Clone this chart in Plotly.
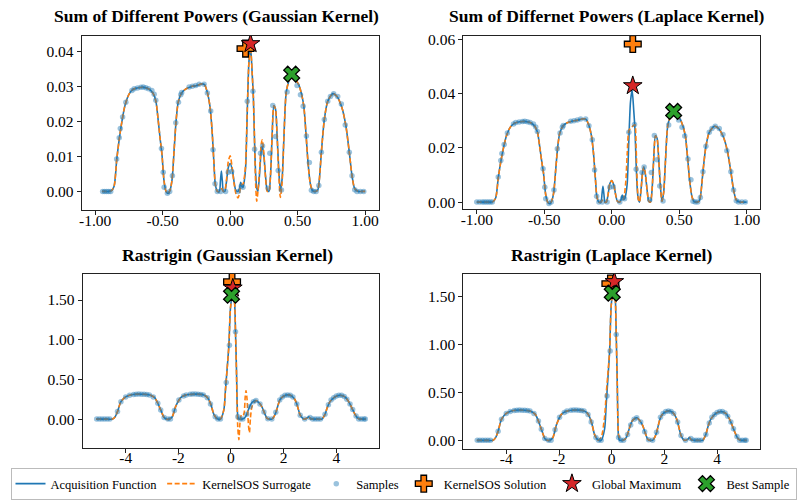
import plotly.graph_objects as go

# ---------------- Sum of Different Powers ----------------
sp_x = [-1.00, -0.975, -0.95, -0.925, -0.90, -0.88, -0.86, -0.84, -0.82, -0.80,
        -0.78, -0.75, -0.72, -0.68, -0.64, -0.60, -0.57, -0.55, -0.535, -0.52,
        -0.505, -0.49, -0.475, -0.46, -0.445, -0.43, -0.415, -0.40, -0.385, -0.36,
        -0.33, -0.29, -0.25, -0.21, -0.19, -0.17, -0.15, -0.135, -0.12, -0.11,
        -0.095, -0.08, -0.072, -0.065, -0.058, -0.05, -0.04, -0.028, -0.014, 0.0,
        0.016, 0.03, 0.042, 0.058, 0.07, 0.078, 0.086, 0.095, 0.105, 0.115,
        0.127, 0.139, 0.151, 0.163, 0.172, 0.181, 0.189, 0.197, 0.206, 0.218,
        0.23, 0.238, 0.25, 0.262, 0.275, 0.287, 0.299, 0.311, 0.324, 0.336,
        0.348, 0.36, 0.372, 0.385, 0.397, 0.415, 0.434, 0.459, 0.484, 0.509,
        0.533, 0.547, 0.562, 0.577, 0.594, 0.611, 0.631, 0.649, 0.66, 0.676,
        0.698, 0.723, 0.76, 0.792, 0.829, 0.858, 0.883, 0.903, 0.923, 0.95,
        0.975, 1.0]

sp_acq = [0, 0, 0, 0, 0, 0.0002, 0.0015, 0.0093, 0.0155, 0.0205,
          0.0245, 0.0278, 0.0292, 0.0297, 0.0298, 0.0293, 0.0280, 0.0258, 0.0210, 0.0155,
          0.0105, 0.0030, 0.0000, -0.0006, 0.0004, 0.0035, 0.0120, 0.0205, 0.0255, 0.0282,
          0.0293, 0.0300, 0.0303, 0.0308, 0.0306, 0.0285, 0.0245, 0.0180, 0.0080, 0.0020,
          0.0000, 0.0000, 0.0030, 0.0058, 0.0030, 0.0000, 0.0000, 0.0025, 0.0068, 0.0080,
          0.0062, 0.0025, 0.0003, 0.0000, 0.0010, 0.0026, 0.0015, 0.0012, 0.0030, 0.0070,
          0.0230, 0.0370, 0.0415, 0.0340, 0.0270, 0.0140, 0.0050, 0.0010, 0.0000, 0.0050,
          0.0115, 0.0130, 0.0102, 0.0045, 0.0003, 0.0000, 0.0045, 0.0159, 0.0245, 0.0236,
          0.0159, 0.0064, 0.0003, 0.0036, 0.0140, 0.0282, 0.0315, 0.0334, 0.0321, 0.0305,
          0.0272, 0.0240, 0.0165, 0.0083, 0.0022, 0.0002, 0.0000, 0.0004, 0.0030, 0.0112,
          0.0206, 0.0258, 0.0280, 0.0272, 0.0239, 0.0187, 0.0112, 0.0045, 0.0008, 0.0000,
          0, 0]

sp_sur_gauss = [0, 0, 0, 0, 0, 0.0002, 0.0015, 0.0093, 0.0155, 0.0205,
                0.0245, 0.0278, 0.0292, 0.0297, 0.0298, 0.0293, 0.0280, 0.0258, 0.0210, 0.0155,
                0.0105, 0.0030, 0.0000, -0.0006, 0.0004, 0.0035, 0.0120, 0.0205, 0.0255, 0.0282,
                0.0293, 0.0300, 0.0303, 0.0308, 0.0306, 0.0285, 0.0245, 0.0180, 0.0080, 0.0020,
                0.0000, 0.0000, 0.0005, 0.0008, 0.0005, 0.0000, 0.0002, 0.0030, 0.0085, 0.0102,
                0.0065, 0.0020, -0.0005, -0.0019, -0.0005, 0.0015, 0.0020, 0.0020, 0.0040, 0.0080,
                0.0235, 0.0370, 0.0415, 0.0340, 0.0270, 0.0140, 0.0020, -0.0028, 0.0000, 0.0060,
                0.0135, 0.0148, 0.0108, 0.0040, 0.0000, 0.0000, 0.0045, 0.0159, 0.0245, 0.0236,
                0.0159, 0.0050, -0.0017, 0.0025, 0.0140, 0.0282, 0.0315, 0.0334, 0.0321, 0.0305,
                0.0272, 0.0240, 0.0165, 0.0083, 0.0022, 0.0002, 0.0000, 0.0004, 0.0030, 0.0112,
                0.0206, 0.0258, 0.0280, 0.0272, 0.0239, 0.0187, 0.0112, 0.0045, 0.0008, 0.0000,
                0, 0]

sp_sur_laplace = [0, 0, 0, 0, 0, 0.0002, 0.0015, 0.0093, 0.0155, 0.0205,
                  0.0245, 0.0278, 0.0292, 0.0297, 0.0298, 0.0293, 0.0280, 0.0258, 0.0210, 0.0155,
                  0.0105, 0.0030, 0.0000, -0.0006, 0.0004, 0.0035, 0.0120, 0.0205, 0.0255, 0.0282,
                  0.0293, 0.0300, 0.0303, 0.0308, 0.0306, 0.0285, 0.0245, 0.0180, 0.0080, 0.0020,
                  0.0000, 0.0000, 0.0005, 0.0008, 0.0005, 0.0000, 0.0000, 0.0025, 0.0068, 0.0080,
                  0.0062, 0.0025, 0.0003, 0.0000, 0.0005, 0.0010, 0.0010, 0.0030, 0.0080, 0.0180,
                  0.0265, 0.0272, 0.0278, 0.0284, 0.0286, 0.0200, 0.0070, 0.0010, 0.0000, 0.0050,
                  0.0115, 0.0130, 0.0102, 0.0045, 0.0003, 0.0000, 0.0045, 0.0159, 0.0245, 0.0236,
                  0.0159, 0.0064, 0.0003, 0.0036, 0.0140, 0.0282, 0.0315, 0.0334, 0.0321, 0.0305,
                  0.0272, 0.0240, 0.0165, 0.0083, 0.0022, 0.0002, 0.0000, 0.0004, 0.0030, 0.0112,
                  0.0206, 0.0258, 0.0280, 0.0272, 0.0239, 0.0187, 0.0112, 0.0045, 0.0008, 0.0000,
                  0, 0]

sp_samp_x = [-1.0, -0.98, -0.96, -0.945, -0.93, -0.915, -0.90, -0.885, -0.841, -0.822,
             -0.814, -0.797, -0.773, -0.728, -0.711, -0.686, -0.661, -0.644, -0.625, -0.605,
             -0.58, -0.563, -0.551, -0.509, -0.496, -0.489, -0.465, -0.448, -0.428, -0.403,
             -0.383, -0.366, -0.359, -0.304, -0.28, -0.255, -0.23, -0.193, -0.169, -0.144,
             -0.127, -0.112, -0.095, -0.07, -0.034, -0.014, 0.011, 0.06, 0.082, 0.095,
             0.127, 0.169, 0.181, 0.225, 0.24, 0.282, 0.294, 0.316, 0.336, 0.356,
             0.38, 0.422, 0.496, 0.521, 0.541, 0.565, 0.587, 0.602, 0.619, 0.637,
             0.657, 0.676, 0.698, 0.723, 0.743, 0.767, 0.797, 0.824, 0.853, 0.883,
             0.903, 0.923, 0.94, 0.965, 0.99]
sp_samp_y = [0, 0, 0, 0, 0, 0, 0, 0, 0.0093, 0.0154,
             0.018, 0.0213, 0.0255, 0.0289, 0.0294, 0.0296, 0.0298, 0.0299, 0.0297, 0.0294,
             0.0289, 0.0278, 0.0261, 0.0123, 0.0055, 0.0012, -0.0005, 0.0, 0.0045, 0.0197,
             0.0255, 0.0277, 0.0283, 0.0299, 0.0301, 0.0303, 0.0307, 0.0307, 0.0282, 0.023,
             0.0119, 0.0022, 0.0, 0.0, 0.0, 0.0055, 0.0057, 0.0, 0.0015, 0.0012,
             0.0258, 0.0287, 0.0121, 0.0109, 0.013, 0.0009, 0.0109, 0.0246, 0.0157, 0.006,
             0.0004, 0.0285, 0.0303, 0.0277, 0.0244, 0.0159, 0.0083, 0.0003, 0.0, 0.0,
             0.0017, 0.0112, 0.0206, 0.0258, 0.0272, 0.028, 0.0272, 0.025, 0.019, 0.0112,
             0.0045, 0.0005, 0.0, 0.0, 0.0]

# ---------------- Rastrigin ----------------
ra_x = [-5.12, -4.9, -4.7, -4.5, -4.4, -4.31, -4.18, -4.0, -3.74, -3.5,
        -3.36, -3.2, -3.05, -2.9, -2.78, -2.67, -2.54, -2.45, -2.35, -2.23,
        -2.1, -1.91, -1.75, -1.6, -1.3, -1.09, -0.95, -0.85, -0.75, -0.65,
        -0.52, -0.40, -0.27, -0.21, -0.15, -0.08, -0.02, 0.08, 0.14, 0.17,
        0.21, 0.23, 0.26, 0.30, 0.34, 0.38, 0.42, 0.46, 0.50, 0.54,
        0.57, 0.61, 0.64, 0.67, 0.70, 0.74, 0.80, 0.95, 1.08, 1.18,
        1.28, 1.37, 1.46, 1.55, 1.63, 1.71, 1.87, 2.06, 2.2, 2.31,
        2.42, 2.5, 2.57, 2.63, 2.76, 2.88, 2.95, 3.02, 3.15, 3.3,
        3.45, 3.57, 3.66, 3.76, 3.95, 4.14, 4.33, 4.45, 4.52, 4.62,
        4.71, 4.80, 4.9, 5.0, 5.12]

ra_acq = [0, 0, 0, 0, 0.03, 0.095, 0.22, 0.28, 0.31, 0.315,
          0.313, 0.31, 0.30, 0.27, 0.20, 0.116, 0.02, 0.0, 0.0, 0.03,
          0.16, 0.27, 0.30, 0.31, 0.315, 0.31, 0.29, 0.25, 0.17, 0.06,
          0.005, 0.0, 0.12, 0.37, 0.62, 0.93, 1.40, 1.62, 1.45, 1.11,
          0.61, 0.25, 0.03, 0.0, 0.0, 0.0, 0.0, 0.005, 0.01, 0.025,
          0.04, 0.07, 0.10, 0.125, 0.15, 0.18, 0.21, 0.235, 0.20, 0.15,
          0.07, 0.01, 0.0, 0.0, 0.03, 0.09, 0.25, 0.30, 0.305, 0.29,
          0.25, 0.19, 0.11, 0.05, 0.0, 0.01, 0.03, 0.005, 0.0, 0.0,
          0.0, 0.06, 0.15, 0.22, 0.28, 0.30, 0.28, 0.23, 0.19, 0.12,
          0.06, 0.015, 0.0, 0.0, 0.0]

ra_sur_gauss = [0, 0, 0, 0, 0.03, 0.095, 0.22, 0.28, 0.31, 0.315,
                0.313, 0.31, 0.30, 0.27, 0.20, 0.116, 0.02, 0.0, 0.0, 0.03,
                0.16, 0.27, 0.30, 0.31, 0.315, 0.31, 0.29, 0.25, 0.17, 0.06,
                0.0, 0.0, 0.12, 0.37, 0.62, 0.93, 1.40, 1.62, 1.45, 1.11,
                0.55, 0.20, -0.12, -0.26, -0.05, 0.04, 0.06, 0.05, 0.08, 0.28,
                0.36, 0.25, 0.05, -0.10, -0.17, 0.02, 0.16, 0.235, 0.20, 0.15,
                0.07, 0.01, 0.0, 0.0, 0.03, 0.09, 0.25, 0.30, 0.305, 0.29,
                0.25, 0.19, 0.11, 0.05, 0.0, 0.01, 0.03, 0.005, 0.0, 0.0,
                0.0, 0.06, 0.15, 0.22, 0.28, 0.30, 0.28, 0.23, 0.19, 0.12,
                0.06, 0.015, 0.0, 0.0, 0.0]

ra_sur_laplace = [0, 0, 0, 0, 0.03, 0.095, 0.22, 0.28, 0.31, 0.315,
                  0.313, 0.31, 0.30, 0.27, 0.20, 0.116, 0.02, 0.0, 0.0, 0.03,
                  0.16, 0.27, 0.30, 0.31, 0.315, 0.31, 0.29, 0.25, 0.17, 0.06,
                  0.0, 0.03, 0.25, 0.48, 0.68, 0.93, 1.40, 1.62, 1.45, 1.11,
                  0.58, 0.25, 0.06, 0.03, 0.02, 0.01, 0.0, 0.005, 0.01, 0.025,
                  0.04, 0.07, 0.10, 0.125, 0.15, 0.18, 0.21, 0.235, 0.20, 0.15,
                  0.07, 0.01, 0.0, 0.0, 0.03, 0.09, 0.25, 0.30, 0.305, 0.29,
                  0.25, 0.19, 0.11, 0.05, 0.0, 0.01, 0.03, 0.005, 0.0, 0.0,
                  0.0, 0.06, 0.15, 0.22, 0.28, 0.30, 0.28, 0.23, 0.19, 0.12,
                  0.06, 0.015, 0.0, 0.0, 0.0]

ra_samp_x = [-5.1, -5.0, -4.9, -4.8, -4.7, -4.6, -4.31, -4.18, -4.0, -3.85,
             -3.7, -3.6, -3.5, -3.4, -3.3, -3.2, -3.1, -2.95, -2.78, -2.67,
             -2.54, -2.4, -2.3, -2.15, -1.98, -1.8, -1.7, -1.55, -1.45, -1.35,
             -1.25, -1.15, -1.05, -0.9, -0.78, -0.6, -0.5, -0.4, -0.18, -0.06,
             0.17, 0.26, 0.35, 0.45, 0.6, 0.72, 0.85, 0.95, 1.1, 1.25,
             1.4, 1.55, 1.7, 1.85, 1.95, 2.05, 2.15, 2.25, 2.35, 2.5,
             2.63, 2.8, 3.0, 3.1, 3.2, 3.3, 3.4, 3.57, 3.7, 3.8,
             3.9, 4.0, 4.1, 4.2, 4.3, 4.4, 4.52, 4.62, 4.75, 4.85,
             4.95, 5.05, 5.1]
ra_samp_y = [0, 0, 0, 0, 0, 0, 0.095, 0.22, 0.28, 0.30,
             0.31, 0.313, 0.315, 0.314, 0.312, 0.31, 0.305, 0.28, 0.2, 0.116,
             0.02, 0.0, 0.0, 0.11, 0.24, 0.29, 0.305, 0.312, 0.315, 0.315,
             0.313, 0.31, 0.305, 0.27, 0.19, 0.03, 0.0, 0.0, 0.46, 0.93,
             1.10, 0.03, 0.0, 0.0, 0.06, 0.16, 0.22, 0.235, 0.19, 0.09,
             0.005, 0.0, 0.085, 0.24, 0.28, 0.30, 0.305, 0.3, 0.28, 0.19,
             0.05, 0.0, 0.02, 0.0, 0.0, 0.0, 0.0, 0.06, 0.18, 0.24,
             0.27, 0.29, 0.30, 0.30, 0.285, 0.25, 0.19, 0.12, 0.04, 0.0,
             0.0, 0.0, 0.0]

# Special points: [SoP Gaussian, SoP Laplace, Rastrigin Gaussian, Rastrigin Laplace]
sol_x = [0.114, 0.156, 0.04, -0.05]
sol_y = [0.0409, 0.0584, 1.73, 1.63]
max_x = [0.151, 0.156, 0.07, 0.10]
max_y = [0.0423, 0.043, 1.65, 1.65]
best_x = [0.456, 0.459, 0.02, 0.02]
best_y = [0.0336, 0.0335, 1.56, 1.53]

titles = ["Sum of Different Powers (Gaussian Kernel)",
          "Sum of Differnet Powers (Laplace Kernel)",
          "Rastrigin (Gaussian Kernel)",
          "Rastrigin (Laplace Kernel)"]

sp_xticks = [-1.0, -0.5, 0.0, 0.5, 1.0]
sp_xtext = ["-1.00", "-0.50", "0.00", "0.50", "1.00"]
ra_xticks = [-4, -2, 0, 2, 4]
ra_xtext = ["-4", "-2", "0", "2", "4"]
yticks_tl = [0.0, 0.01, 0.02, 0.03, 0.04]
ytext_tl = ["0.00", "0.01", "0.02", "0.03", "0.04"]
yticks_tr = [0.0, 0.02, 0.04, 0.06]
ytext_tr = ["0.00", "0.02", "0.04", "0.06"]
yticks_b = [0.0, 0.5, 1.0, 1.5]
ytext_b = ["0.00", "0.50", "1.00", "1.50"]

W, H = 804, 501
FONT = "Liberation Serif"
BLUE = "#1f77b4"
ORANGE = "#ff7f0e"

# panel pixel boxes (left, right, top, bottom)
boxes = [(79, 377, 32, 208), (462, 760, 32, 207.5), (80, 377.7, 272.7, 448.3), (462, 760, 272.7, 449)]
xranges = [[-1.1, 1.1], [-1.1, 1.1], [-5.632, 5.632], [-5.632, 5.632]]
yranges = [[-0.0053, 0.0446], [-0.0027, 0.0615], [-0.3616, 1.828], [-0.085, 1.73]]
title_pos = [(214, 12), (606, 12), (225, 254), (611, 254)]

tl_start = [i for i, v in enumerate(sp_x) if v >= -0.951][0]
panels = [
    (sp_x[tl_start:], sp_acq[tl_start:], sp_sur_gauss[tl_start:],
     [x for x in sp_samp_x if x >= -0.951], [y for x, y in zip(sp_samp_x, sp_samp_y) if x >= -0.951]),
    (sp_x, sp_acq, sp_sur_laplace, sp_samp_x, sp_samp_y),
    (ra_x, ra_acq, ra_sur_gauss, ra_samp_x, ra_samp_y),
    (ra_x, ra_acq, ra_sur_laplace, ra_samp_x, ra_samp_y),
]

fig = go.Figure()
for k, (lx, la, ls, sx, sy) in enumerate(panels):
    xa = "x" if k == 0 else f"x{k+1}"
    ya = "y" if k == 0 else f"y{k+1}"
    show = (k == 0)
    fig.add_trace(go.Scatter(x=lx, y=la, mode="lines", name="Acquisition Function",
                             line=dict(color=BLUE, width=1.6, shape="spline", smoothing=0.7),
                             xaxis=xa, yaxis=ya, showlegend=show, legendgroup="a"))
    fig.add_trace(go.Scatter(x=lx, y=ls, mode="lines", name="KernelSOS Surrogate",
                             line=dict(color=ORANGE, width=1.6, dash="5px,2.5px", shape="spline", smoothing=0.7),
                             xaxis=xa, yaxis=ya, showlegend=show, legendgroup="b"))
    fig.add_trace(go.Scatter(x=sx, y=sy, mode="markers", name="Samples",
                             marker=dict(color="rgba(31,119,180,0.45)", size=5.5, line=dict(width=0)),
                             xaxis=xa, yaxis=ya, showlegend=show, legendgroup="c"))
    fig.add_trace(go.Scatter(x=[sol_x[k]], y=[sol_y[k]], mode="markers", name="KernelSOS Solution",
                             marker=dict(symbol="cross", color=ORANGE, size=14, line=dict(color="black", width=1.3)),
                             xaxis=xa, yaxis=ya, showlegend=show, legendgroup="d"))
    fig.add_trace(go.Scatter(x=[max_x[k]], y=[max_y[k]], mode="markers", name="Global Maximum",
                             marker=dict(symbol="star", color="#d62728", size=14, line=dict(color="black", width=1)),
                             xaxis=xa, yaxis=ya, showlegend=show, legendgroup="e"))
    fig.add_trace(go.Scatter(x=[best_x[k]], y=[best_y[k]], mode="markers", name="Best Sample",
                             marker=dict(symbol="x", color="#2ca02c", size=14, line=dict(color="black", width=1.3)),
                             xaxis=xa, yaxis=ya, showlegend=show, legendgroup="f"))

xt = [(sp_xticks, sp_xtext), (sp_xticks, sp_xtext), (ra_xticks, ra_xtext), (ra_xticks, ra_xtext)]
yt = [(yticks_tl, ytext_tl), (yticks_tr, ytext_tr), (yticks_b, ytext_b), (yticks_b, ytext_b)]

layout = dict(width=W, height=H, margin=dict(l=0, r=0, t=0, b=0),
              paper_bgcolor="white", plot_bgcolor="white",
              font=dict(family=FONT, size=14, color="black"))
axis_common = dict(showgrid=False, zeroline=False, showline=True, mirror=True,
                   linecolor="#222", linewidth=1, ticks="outside", ticklen=4,
                   tickwidth=1, tickcolor="#222", tickfont=dict(family=FONT, size=15.5, color="black"))
annotations = []
for k, (l, r, t, b) in enumerate(boxes):
    xs = "xaxis" if k == 0 else f"xaxis{k+1}"
    ys = "yaxis" if k == 0 else f"yaxis{k+1}"
    xa = "x" if k == 0 else f"x{k+1}"
    ya = "y" if k == 0 else f"y{k+1}"
    layout[xs] = dict(axis_common, domain=[l / W, r / W], range=xranges[k], anchor=ya,
                      tickmode="array", tickvals=xt[k][0], ticktext=xt[k][1],
                      ticklabelstandoff=-8)
    layout[ys] = dict(axis_common, domain=[1 - b / H, 1 - t / H], range=yranges[k], anchor=xa,
                      tickmode="array", tickvals=yt[k][0], ticktext=yt[k][1])
    tx, ty = title_pos[k]
    annotations.append(dict(text="<b>" + titles[k] + "</b>", x=tx / W, y=1 - ty / H,
                            xref="paper", yref="paper", xanchor="center", yanchor="middle",
                            showarrow=False, font=dict(family=FONT, size=17.5, color="black")))
layout["annotations"] = annotations
layout["legend"] = dict(orientation="h", x=0.5, xanchor="center", y=0.0, yanchor="bottom",
                        bordercolor="#bbbbbb", borderwidth=1, bgcolor="white",
                        font=dict(family=FONT, size=12.5, color="black"),
                        itemwidth=30, tracegroupgap=0)
fig.update_layout(**layout)
fig.write_html("out.html")
